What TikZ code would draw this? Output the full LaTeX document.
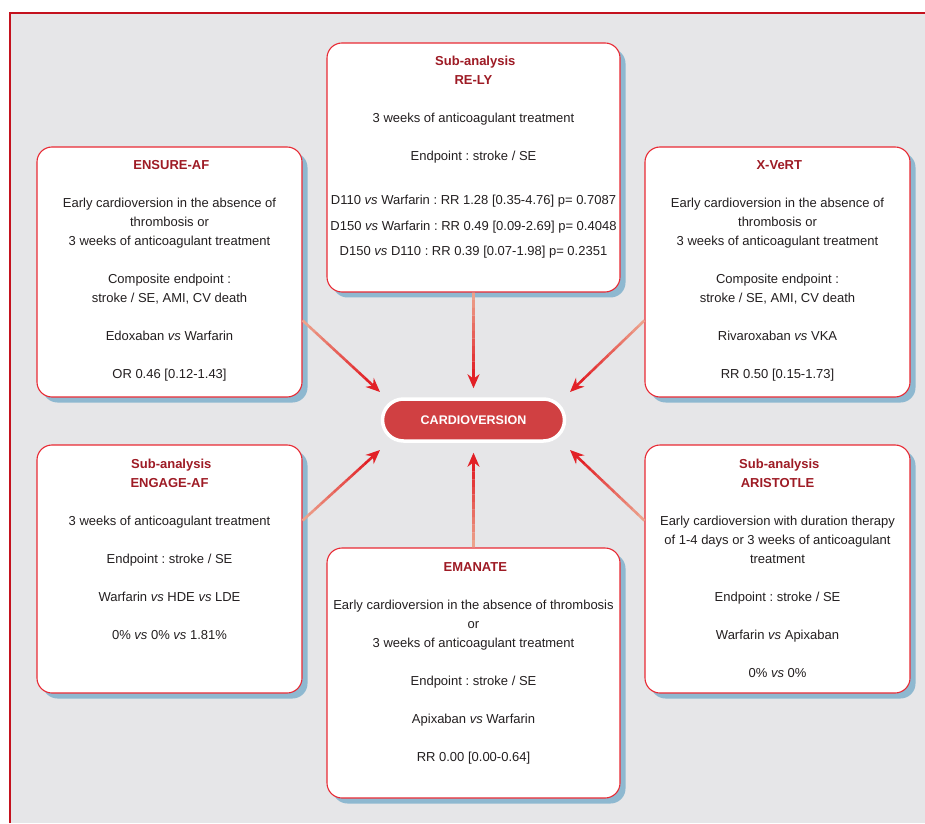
\documentclass[tikz,border=0pt]{standalone}
\usepackage{fontspec}
\setmainfont{Liberation Sans}
\usetikzlibrary{shapes, arrows.meta, shadows, calc}
\frenchspacing

\definecolor{panelred}{RGB}{232,42,52}
\definecolor{titlered}{RGB}{158,27,37}
\definecolor{shadeblue}{RGB}{142,184,208}
\definecolor{cvred}{RGB}{208,64,66}
\definecolor{framered}{RGB}{196,18,30}
\definecolor{backgray}{RGB}{230,230,232}
\definecolor{fadered}{RGB}{236,162,140}
\definecolor{arrowred}{RGB}{226,32,38}
\definecolor{inkgray}{RGB}{35,31,32}

\tikzstyle{panel} = [rectangle, draw=panelred, line width=1.1pt, fill=white,
    rounded corners=15pt, inner sep=0pt, text=inkgray, font=\fontsize{13}{19}\selectfont,
    drop shadow={shadow xshift=5.5pt, shadow yshift=-5.5pt, fill=shadeblue, opacity=1}]
\tikzstyle{hub} = [rectangle, draw=white, line width=3.5pt, fill=cvred, rounded corners=21pt,
    minimum width=182pt, minimum height=42pt, text=white,
    font=\fontsize{12.5}{15}\selectfont\bfseries]
\tikzstyle{feedline} = [line width=2.6pt]

\newcommand{\panelbody}[3]{\parbox[t][#2][t]{#1}{\centering\vspace*{9.7pt}\strut#3}}
\newcommand{\head}[1]{{\bfseries\color{titlered}#1}}
\newcommand{\vsit}{\textit{vs}}
% connector fading from pale to red
\newcommand{\feed}[2]{%
  \foreach \k in {0,...,10}{%
    \pgfmathsetmacro{\fa}{\k*0.08}%
    \pgfmathsetmacro{\fb}{(\k+1)*0.08}%
    \pgfmathtruncatemacro{\mixpct}{100-\k*10}%
    \draw[feedline, fadered!\mixpct!arrowred] ($(#1)!\fa!(#2)$) -- ($(#1)!\fb!(#2)$);
  }%
  \draw[feedline, arrowred, -{Stealth[length=14pt, width=12pt, inset=4.5pt]}] ($(#1)!0.88!(#2)$) -- (#2);
}

\begin{document}
\begin{tikzpicture}[x=1pt, y=1pt]
        % Frame
        \useasboundingbox (0,0) rectangle (925,823);
        \fill[backgray] (10,0) rectangle (925,810);
        \draw[framered, line width=2.2pt] (10,0) -- (10,810) -- (925,810);
        % Place nodes
        \node [hub] (cv) at (473.5,403) {CARDIOVERSION};
        \node [panel, above of=cv, node distance=252.5pt] (rely) {\panelbody{293pt}{249pt}{
            \head{Sub-analysis\\RE-LY}\\[19pt]
            3 weeks of anticoagulant treatment\\[19pt]
            Endpoint : stroke / SE\\[25pt]
            D110 \vsit{} Warfarin : RR 1.28 [0.35-4.76] p= 0.7087\\[7pt]
            D150 \vsit{} Warfarin : RR 0.49 [0.09-2.69] p= 0.4048\\[6pt]
            D150 \vsit{} D110 : RR 0.39 [0.07-1.98] p= 0.2351}};
        \node [panel] (ensure) at (169.5,551) {\panelbody{265pt}{250pt}{
            \head{ENSURE-AF}\\[19pt]
            Early cardioversion in the absence of\\ thrombosis or\\ 3 weeks of anticoagulant treatment\\[19pt]
            Composite endpoint :\\ stroke / SE, AMI, CV death\\[19pt]
            Edoxaban \vsit{} Warfarin\\[19pt]
            OR 0.46 [0.12-1.43]}};
        \node [panel] (xvert) at (777.5,551) {\panelbody{265pt}{250pt}{
            \head{X-VeRT}\\[19pt]
            Early cardioversion in the absence of\\ thrombosis or\\ 3 weeks of anticoagulant treatment\\[19pt]
            Composite endpoint :\\ stroke / SE, AMI, CV death\\[19pt]
            Rivaroxaban \vsit{} VKA\\[19pt]
            RR 0.50 [0.15-1.73]}};
        \node [panel] (engage) at (169.5,254) {\panelbody{265pt}{248pt}{
            \head{Sub-analysis\\ENGAGE-AF}\\[19pt]
            3 weeks of anticoagulant treatment\\[19pt]
            Endpoint : stroke / SE\\[19pt]
            Warfarin \vsit{} HDE \vsit{} LDE\\[19pt]
            0\% \vsit{} 0\% \vsit{} 1.81\%}};
        \node [panel] (aristotle) at (777.5,254) {\panelbody{265pt}{248pt}{
            \head{Sub-analysis\\ARISTOTLE}\\[19pt]
            Early cardioversion with duration therapy\\ of 1-4 days or 3 weeks of anticoagulant\\ treatment\\[19pt]
            Endpoint : stroke / SE\\[19pt]
            Warfarin \vsit{} Apixaban\\[19pt]
            0\% \vsit{} 0\%}};
        \node [panel, below of=cv, node distance=253pt] (emanate) {\panelbody{293pt}{250pt}{
            \head{EMANATE}\\[19pt]
            Early cardioversion in the absence of thrombosis\\ or\\ 3 weeks of anticoagulant treatment\\[19pt]
            Endpoint : stroke / SE\\[19pt]
            Apixaban \vsit{} Warfarin\\[19pt]
            RR 0.00 [0.00-0.64]}};
        % Arrow tips
        \coordinate (tipN) at ([yshift=9pt]cv.north);
        \coordinate (tipS) at ([yshift=-10pt]cv.south);
        \coordinate (tipNW) at ($(cv)+(-93.5,28)$);
        \coordinate (tipNE) at ($(cv)+(96.5,28)$);
        \coordinate (tipSW) at ($(cv)+(-93.5,-30)$);
        \coordinate (tipSE) at ($(cv)+(96.5,-30)$);
        % Draw edges
        \feed{rely.south}{tipN}
        \feed{ensure.-20}{tipNW}
        \feed{xvert.200}{tipNE}
        \feed{engage.20}{tipSW}
        \feed{aristotle.160}{tipSE}
        \feed{emanate.north}{tipS}
\end{tikzpicture}
\end{document}
